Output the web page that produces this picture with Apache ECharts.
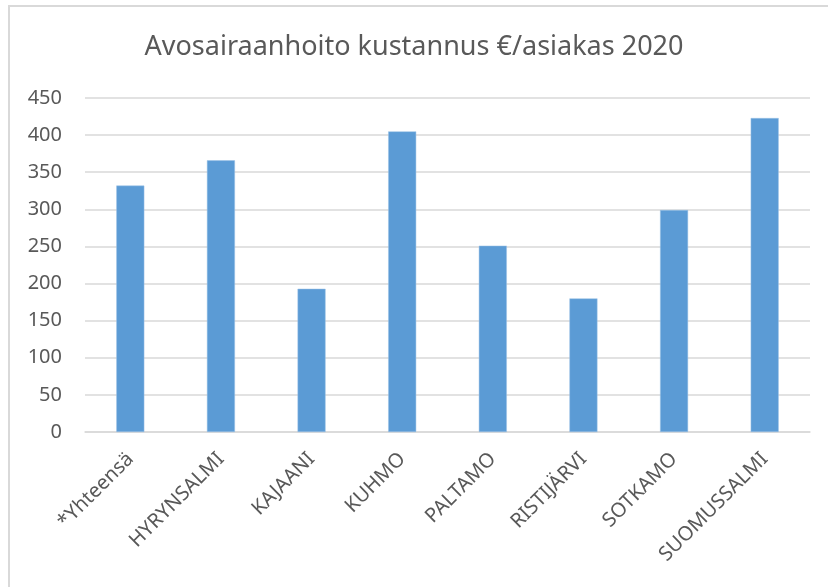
<!DOCTYPE html>
<html>
<head>
<meta charset="utf-8">
<script src="https://cdn.jsdelivr.net/npm/echarts@6/dist/echarts.min.js"></script>
<style>
  html, body { margin: 0; padding: 0; background: #ffffff; }
  #main { width: 828px; height: 587px; }
</style>
</head>
<body>
<div id="main"></div>
<script>
  // data
  const titleText = 'Avosairaanhoito kustannus €/asiakas 2020';
  const categories = ['*Yhteensä', 'HYRYNSALMI', 'KAJAANI', 'KUHMO', 'PALTAMO', 'RISTIJÄRVI', 'SOTKAMO', 'SUOMUSSALMI'];
  const costs = [332, 366, 193, 405, 251, 180, 299, 423];
  const yTicks = [0, 50, 100, 150, 200, 250, 300, 350, 400, 450];

  const font = '"Noto Sans", "Open Sans", sans-serif';
  const grey = '#595959';

  let myChart = echarts.init(document.getElementById('main'));
  let option = {
    backgroundColor: '#ffffff',
    animation: false,
    title: {
      text: titleText,
      left: 'center',
      top: 29,
      textStyle: {
        fontFamily: font,
        fontSize: 27,
        fontWeight: 'normal',
        color: grey
      }
    },
    graphic: [
      {
        type: 'rect',
        shape: { x: 9, y: 6, width: 830, height: 600 },
        style: { fill: 'none', stroke: '#d9d9d9', lineWidth: 2 },
        silent: true
      }
    ],
    grid: {
      left: 85,
      right: 18,
      top: 98,
      bottom: 155
    },
    xAxis: {
      type: 'category',
      data: categories,
      axisLine: { show: true, lineStyle: { color: '#d9d9d9', width: 1.5 } },
      axisTick: { show: false },
      axisLabel: {
        rotate: 45,
        interval: 0,
        margin: 24,
        fontFamily: font,
        fontSize: 20,
        color: grey
      }
    },
    yAxis: {
      type: 'value',
      min: yTicks[0],
      max: yTicks[yTicks.length - 1],
      interval: yTicks[1] - yTicks[0],
      axisLine: { show: false },
      axisTick: { show: false },
      axisLabel: {
        margin: 23,
        fontFamily: font,
        fontSize: 20,
        color: grey
      },
      splitLine: { lineStyle: { color: '#d9d9d9', width: 1.5 } }
    },
    series: [
      {
        name: 'kustannus',
        type: 'bar',
        data: costs,
        barWidth: 28,
        itemStyle: { color: '#5b9bd5', borderColor: '#9dc3e6', borderWidth: 0.5 }
      }
    ]
  };
  myChart.setOption(option);
</script>
</body>
</html>
